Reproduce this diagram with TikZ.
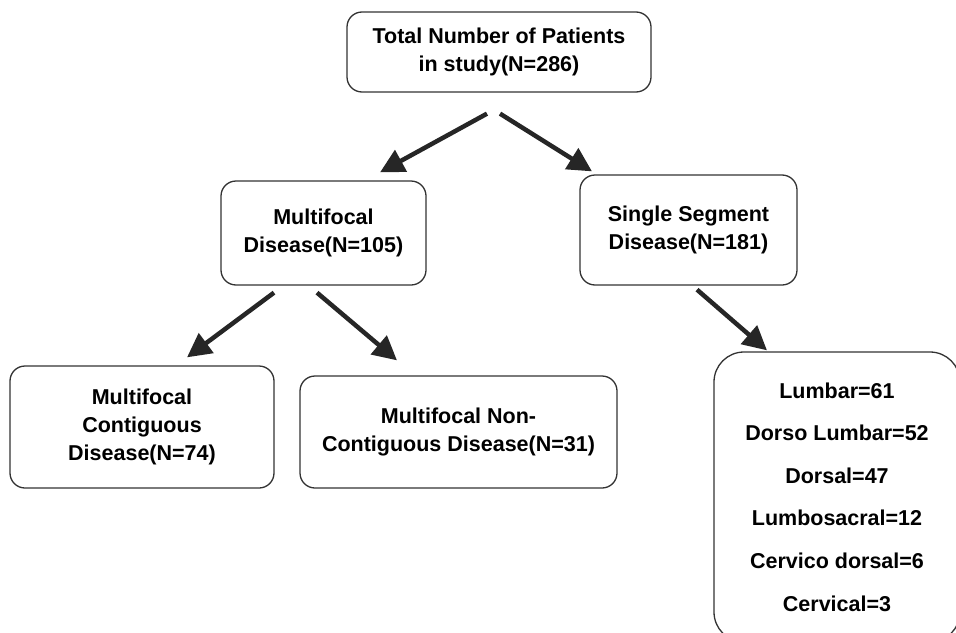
\documentclass[tikz,border=0pt]{standalone}
\usepackage{fontspec}
\setmainfont{Liberation Sans}
\usetikzlibrary{arrows.meta}

\tikzset{
  box/.style={draw=black!80, line width=1.3pt, rounded corners=15pt, align=center,
    font=\bfseries\fontsize{21.5}{28}\selectfont, inner sep=0pt},
  arr/.style={-{Triangle[length=24pt,width=24pt]}, line width=4.5pt, black!85},
}

\begin{document}
\begin{tikzpicture}[x=1pt, y=-1pt]
    \useasboundingbox (0,0) rectangle (956,632);
    % Boxes
    \node[box, minimum width=304pt, minimum height=80pt] (total) at (499,52)
      {Total Number of Patients\\in study(N=286)};
    \node[box, minimum width=205pt, minimum height=104pt] (multi) at (323.5,233)
      {Multifocal\\Disease(N=105)};
    \node[box, minimum width=217pt, minimum height=110pt] (single) at (688.5,230)
      {Single Segment\\Disease(N=181)};
    \node[box, minimum width=264pt, minimum height=122pt] (contig) at (142,427)
      {Multifocal\\Contiguous\\Disease(N=74)};
    \node[box, minimum width=317pt, minimum height=112pt] (noncontig) at (458.5,432)
      {Multifocal Non-\\Contiguous Disease(N=31)};
    % Segments
    \node[box, rounded corners=30pt, minimum width=246pt, minimum height=290pt,
      font=\bfseries\fontsize{21.5}{42.6}\selectfont] (segments) at (837,497)
      {Lumbar=61\\Dorso Lumbar=52\\Dorsal=47\\Lumbosacral=12\\Cervico dorsal=6\\Cervical=3};

    % Arrows
    \draw[arr] ([xshift=-12pt,yshift=-21pt]total.south) -- ([xshift=56.5pt,yshift=8pt]multi.north);
    \draw[arr] ([xshift=1pt,yshift=-21pt]total.south) -- ([xshift=-96.5pt,yshift=3pt]single.north);
    \draw[arr] ([xshift=-49.5pt,yshift=-7pt]multi.south) -- ([xshift=45pt,yshift=8pt]contig.north);
    \draw[arr] ([xshift=-6.5pt,yshift=-7pt]multi.south) -- ([xshift=-61.5pt,yshift=15pt]noncontig.north);
    \draw[arr] ([xshift=8.5pt,yshift=-4pt]single.south) -- ([xshift=-70pt,yshift=1pt]segments.north);
\end{tikzpicture}
\end{document}
